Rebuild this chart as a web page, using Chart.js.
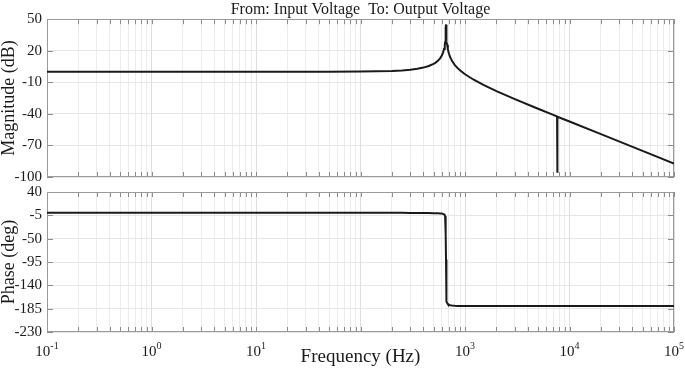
<!DOCTYPE html>
<html><head><meta charset="utf-8">
<script src="https://cdn.jsdelivr.net/npm/chart.js@4"></script>
<style>
html,body{margin:0;padding:0;background:#fff;}
#wrap{position:relative;width:685px;height:369px;overflow:hidden;}
#top{position:absolute;left:0;top:0;width:685px;height:184px;}
#bot{position:absolute;left:0;top:184px;width:685px;height:185px;}
</style></head><body>
<div id="wrap"><div id="top"><canvas id="c1"></canvas></div><div id="bot"><canvas id="c2"></canvas></div></div>
<script>
const chartTitle = 'From: Input Voltage  To: Output Voltage';
const magAxisTitle = 'Magnitude (dB)';
const phaseAxisTitle = 'Phase (deg)';
const freqAxisTitle = 'Frequency (Hz)';

const freqHz =      [0.1, 1, 10, 50, 100, 200, 250, 300, 350, 400, 450, 500, 520, 550, 580, 600, 615, 630, 640, 645, 650, 652, 654, 656, 658, 660, 662, 665, 670, 675, 685, 700, 720, 750, 800, 850, 900, 1000, 1200, 1500, 2000, 3000, 5000, 7000, 7600, 7640, 7680, 10000, 20000, 50000, 100000];
const magnitudeDb = [0.0, 0.0, 0.0, 0.05, 0.2, 0.84, 1.35, 2.0, 2.9, 4.0, 5.5, 7.5, 8.5, 10.4, 13.0, 15.5, 18.0, 21.6, 25.3, 28.1, 32.3, 34.8, 38.3, 42.0, 45.0, 42.0, 38.3, 33.4, 28.7, 25.6, 21.5, 17.6, 14.1, 10.5, 6.4, 3.5, 1.2, -2.3, -7.3, -12.5, -18.3, -25.9, -35.1, -41.0, -42.5, -96.0, -42.7, -47.2, -59.3, -75.2, -87.3];
const phaseDeg =    [0, 0, 0, 0, -0.1, -0.2, -0.2, -0.3, -0.4, -0.5, -0.6, -0.8, -0.9, -1.0, -1.3, -1.5, -2.2, -3, -5, -7, -11, -15, -24, -40, -90, -140, -156, -165, -171, -174, -176, -177.5, -178.3, -179, -179.5, -179.7, -179.8, -180, -180, -180, -180, -180, -180, -180, -180, -180, -180, -180, -180, -180, -180];

const magTicks = [-100, -70, -40, -10, 20, 50];
const phaseTicks = [-230, -185, -140, -95, -50, -5, 40];
const decadeTicks = [0.1, 1, 10, 100, 1000, 10000, 100000];
const decadeBase = '10';
const decadeExponents = ['-1', '0', '1', '', '3', '4', '5'];

const FONT = "'Liberation Serif', 'Times New Roman', serif";

function xTickList() {
  const out = [];
  for (let i = 0; i < decadeTicks.length - 1; i++) {
    for (let m = 1; m <= 9; m++) out.push({value: decadeTicks[i] * m, major: m === 1});
  }
  out.push({value: decadeTicks[decadeTicks.length - 1], major: true});
  return out;
}

const framePlugin = {
  id: 'frame',
  beforeDatasetsDraw(chart) {
    const {ctx, chartArea: a, scales} = chart;
    ctx.save();
    ctx.lineWidth = 1;
    ctx.strokeStyle = '#8c8c8c';
    const line = (x1, y1, x2, y2) => { ctx.beginPath(); ctx.moveTo(x1, y1); ctx.lineTo(x2, y2); ctx.stroke(); };
    scales.x.ticks.forEach(t => {
      const x = Math.round(scales.x.getPixelForValue(t.value)) + 0.5;
      line(x, a.top, x, a.top + 5);
      line(x, a.bottom, x, a.bottom - 5);
    });
    scales.y.ticks.forEach(t => {
      const y = Math.round(scales.y.getPixelForValue(t.value)) + 0.5;
      line(a.left, y, a.left + 6, y);
      line(a.right, y, a.right - 6, y);
    });
    ctx.strokeStyle = '#9a9a9a';
    ctx.strokeRect(Math.round(a.left) + 0.5, Math.round(a.top) + 0.5, Math.round(a.right - a.left) - 1, Math.round(a.bottom - a.top) - 1);
    ctx.restore();
  }
};

const decadeLabelPlugin = {
  id: 'decadeLabels',
  afterDraw(chart) {
    const {ctx, chartArea: a, scales} = chart;
    ctx.save();
    ctx.fillStyle = '#1a1a1a';
    ctx.textBaseline = 'alphabetic';
    ctx.textAlign = 'left';
    const yBase = a.bottom + 24;
    decadeTicks.forEach((d, i) => {
      const e = decadeExponents[i];
      if (!e) return;
      const x = scales.x.getPixelForValue(d);
      ctx.font = '15px ' + FONT;
      const wb = ctx.measureText(decadeBase).width;
      ctx.font = '10px ' + FONT;
      const we = ctx.measureText(e).width;
      const x0 = x - (wb + we) / 2;
      ctx.font = '15px ' + FONT;
      ctx.fillText(decadeBase, x0, yBase);
      ctx.font = '10px ' + FONT;
      ctx.fillText(e, x0 + wb, yBase - 7);
    });
    ctx.restore();
  }
};

function xScale() {
  return {
    type: 'logarithmic',
    min: decadeTicks[0], max: decadeTicks[decadeTicks.length - 1],
    border: {display: false},
    grid: {
      drawTicks: false,
      color: c => (c.tick && c.tick.major) ? '#dedede' : '#ececec',
      lineWidth: 1
    },
    afterBuildTicks: s => { s.ticks = xTickList(); },
    afterFit: s => { s.paddingLeft = 0; s.paddingRight = 0; s.height = 0; },
    ticks: {display: false, autoSkip: false}
  };
}
function yScale(tickArr, title) {
  return {
    type: 'linear',
    min: tickArr[0], max: tickArr[tickArr.length - 1],
    border: {display: false},
    grid: {drawTicks: false, color: '#e6e6e6'},
    afterBuildTicks: s => { s.ticks = tickArr.map(v => ({value: v})); },
    afterFit: s => { s.width = 47; s.paddingTop = 0; s.paddingBottom = 0; },
    ticks: {padding: 5, color: '#1a1a1a', font: {family: FONT, size: 15}},
    title: {display: true, text: title, color: '#1a1a1a', font: {family: FONT, size: 18, lineHeight: 1}, padding: {top: 0, bottom: 0}}
  };
}
function dataset(values) {
  return {
    data: freqHz.map((f, i) => ({x: f, y: values[i]})),
    borderColor: '#1a1a1a', borderWidth: 2, pointRadius: 0, tension: 0, fill: false
  };
}

new Chart(document.getElementById('c1'), {
  type: 'line',
  data: {datasets: [dataset(magnitudeDb)]},
  options: {
    responsive: true, maintainAspectRatio: false, animation: false,
    layout: {padding: {left: 0, right: 11, top: 0, bottom: 7}},
    plugins: {
      legend: {display: false}, tooltip: {enabled: false},
      title: {display: true, text: chartTitle, fullSize: false, color: '#1a1a1a',
        font: {family: FONT, size: 16, weight: 'normal', lineHeight: 1.2}, padding: {top: 0, bottom: 0}}
    },
    scales: {x: xScale(), y: yScale(magTicks, magAxisTitle)}
  },
  plugins: [framePlugin]
});

new Chart(document.getElementById('c2'), {
  type: 'line',
  data: {datasets: [dataset(phaseDeg)]},
  options: {
    responsive: true, maintainAspectRatio: false, animation: false,
    layout: {padding: {left: 0, right: 11, top: 8, bottom: 0.6}},
    plugins: {
      legend: {display: false}, tooltip: {enabled: false},
      title: {display: true, position: 'bottom', text: freqAxisTitle, fullSize: false, color: '#1a1a1a',
        font: {family: FONT, size: 19, weight: 'normal', lineHeight: 1.2}, padding: {top: 13.6, bottom: 0}}
    },
    scales: {x: xScale(), y: yScale(phaseTicks, phaseAxisTitle)}
  },
  plugins: [framePlugin, decadeLabelPlugin]
});
</script>
</body></html>
